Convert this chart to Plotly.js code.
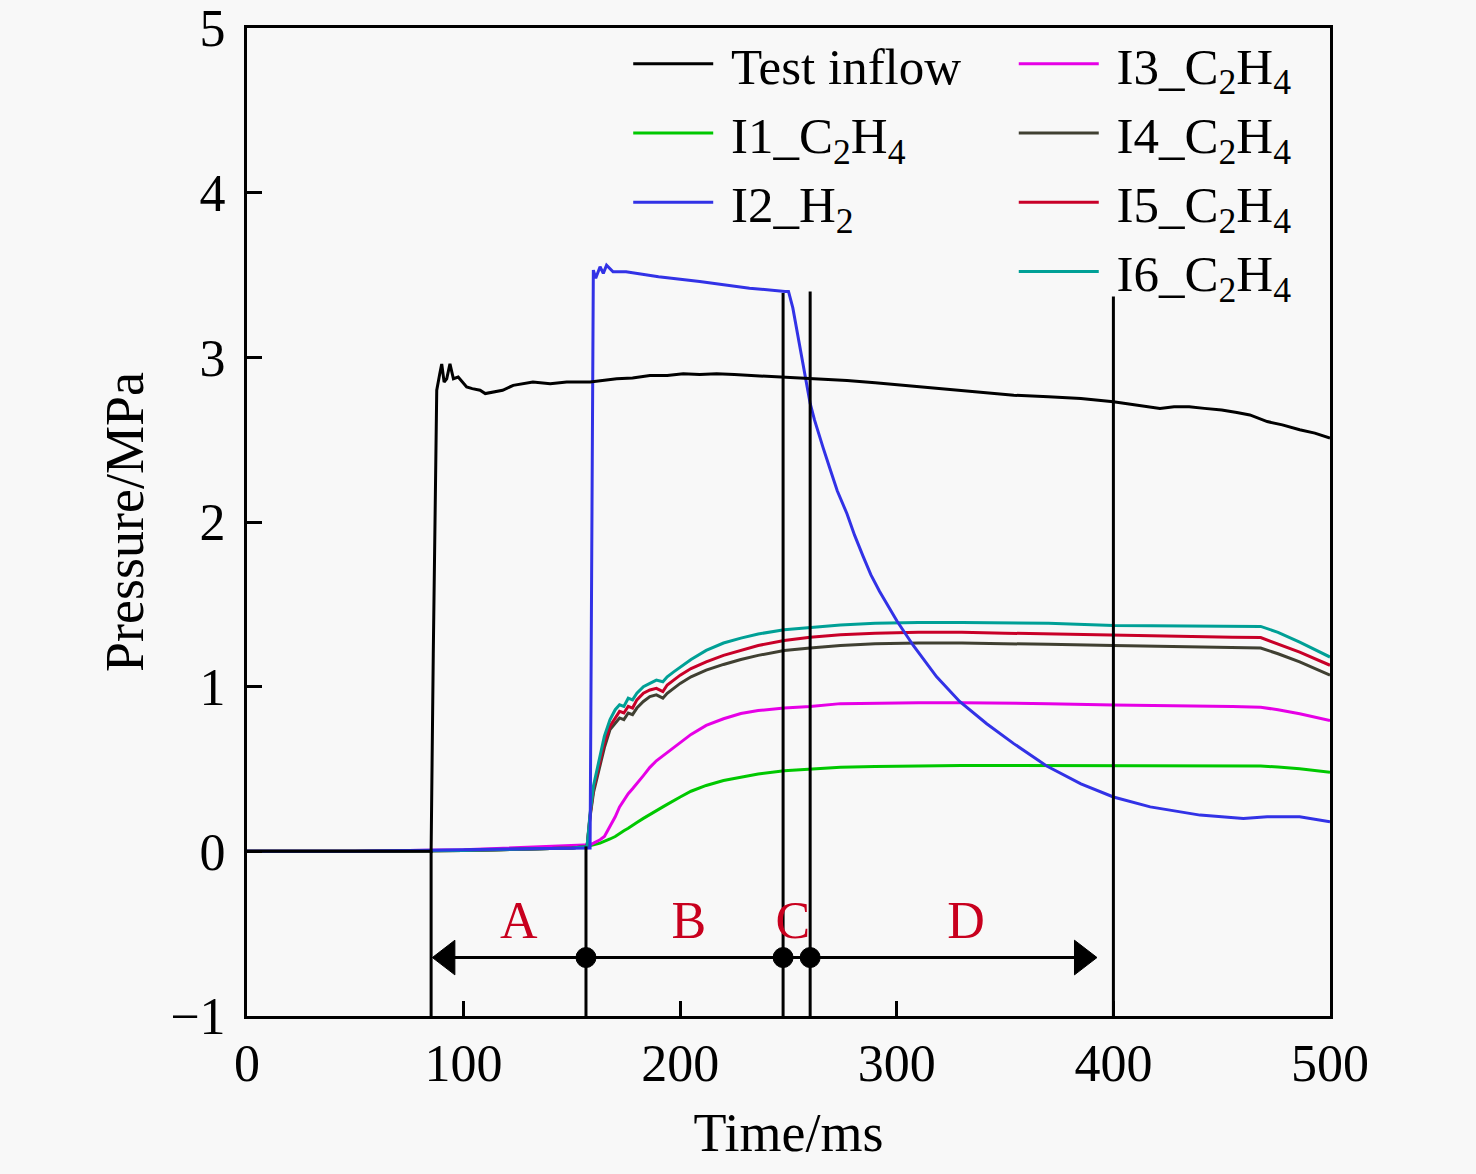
<!DOCTYPE html>
<html>
<head>
<meta charset="utf-8">
<script src="https://cdn.plot.ly/plotly-3.0.1.min.js"></script>
<style>
  body { margin: 0; background: #f8f8f8; }
  #chart { width: 1476px; height: 1174px; }
</style>
</head>
<body>
<div id="chart"></div>
<script>
// test inflow (black)
var inflowT = [0, 50, 85, 86, 87.6, 89, 89.9, 91, 92.2, 93.7, 95.3, 97.5, 101.4, 104, 107.6, 110, 113.6, 118, 122.9, 127, 132, 140, 147.6, 158.4, 165, 170.7, 178, 186, 194, 201.4, 209, 216.8, 225, 232, 240, 247.6, 258.4, 266, 277, 290, 303, 313, 323, 338, 354, 370, 385, 400, 410, 421.5, 428, 435, 442, 450, 457, 463, 471, 478, 486, 493, 500];
var inflowP = [0, 0, 0, 1.2, 2.8, 2.9, 2.96, 2.85, 2.87, 2.96, 2.87, 2.88, 2.82, 2.81, 2.80, 2.78, 2.79, 2.80, 2.83, 2.84, 2.85, 2.84, 2.85, 2.85, 2.86, 2.87, 2.875, 2.89, 2.89, 2.90, 2.895, 2.90, 2.895, 2.89, 2.885, 2.88, 2.87, 2.865, 2.86, 2.845, 2.83, 2.82, 2.81, 2.79, 2.77, 2.76, 2.75, 2.73, 2.71, 2.69, 2.70, 2.70, 2.69, 2.68, 2.665, 2.65, 2.61, 2.59, 2.56, 2.54, 2.51];

// I2 hydrogen (blue)
var h2T = [0, 50, 100, 150, 157, 158.4, 159.9, 161, 163, 164.5, 166, 169, 175, 190, 209, 232, 248.4, 250, 252, 257.6, 260, 262, 264, 266, 269, 272.5, 277, 280.5, 284.5, 288, 292, 296, 300, 307.6, 318.4, 329, 341.5, 354, 369, 385, 400, 417, 440, 460, 471, 486, 500];
var h2P = [0, 0, 0.01, 0.02, 0.02, 0.02, 3.53, 3.48, 3.55, 3.51, 3.56, 3.52, 3.52, 3.49, 3.46, 3.42, 3.40, 3.40, 3.3, 2.88, 2.72, 2.62, 2.53, 2.45, 2.33, 2.19, 2.05, 1.92, 1.79, 1.68, 1.58, 1.49, 1.40, 1.25, 1.06, 0.91, 0.775, 0.654, 0.52, 0.41, 0.33, 0.27, 0.22, 0.20, 0.21, 0.21, 0.18];

// ethylene ports share one time base
var c2h4T = [0, 50, 100, 150, 157, 158.4, 160, 163, 165, 167.6, 170, 172, 174, 176, 178, 180, 183, 186, 189, 192, 194, 197, 200, 205, 212, 220, 228, 236, 248, 260, 274, 290, 310, 330, 350, 370, 400, 430, 455, 468, 476, 486, 500];
var i1P = [0, 0, 0.005, 0.02, 0.03, 0.036, 0.04, 0.05, 0.06, 0.075, 0.09, 0.11, 0.125, 0.14, 0.155, 0.175, 0.2, 0.225, 0.25, 0.27, 0.285, 0.31, 0.33, 0.365, 0.40, 0.43, 0.452, 0.47, 0.49, 0.50, 0.51, 0.515, 0.52, 0.522, 0.522, 0.522, 0.522, 0.52, 0.52, 0.518, 0.512, 0.502, 0.48];
var i3P = [0, 0, 0.01, 0.035, 0.04, 0.04, 0.05, 0.07, 0.09, 0.15, 0.21, 0.27, 0.31, 0.35, 0.38, 0.41, 0.46, 0.51, 0.55, 0.58, 0.60, 0.63, 0.66, 0.71, 0.765, 0.805, 0.837, 0.855, 0.87, 0.88, 0.897, 0.90, 0.902, 0.902, 0.90, 0.897, 0.888, 0.885, 0.88, 0.875, 0.86, 0.836, 0.795];
var i4P = [0, 0, 0.005, 0.02, 0.03, 0.21, 0.36, 0.52, 0.63, 0.74, 0.78, 0.81, 0.80, 0.84, 0.83, 0.87, 0.91, 0.94, 0.95, 0.93, 0.96, 0.99, 1.02, 1.06, 1.10, 1.135, 1.165, 1.19, 1.22, 1.235, 1.25, 1.26, 1.265, 1.265, 1.262, 1.257, 1.25, 1.245, 1.24, 1.235, 1.20, 1.15, 1.07];
var i5P = [0, 0, 0.005, 0.02, 0.03, 0.22, 0.38, 0.55, 0.66, 0.76, 0.81, 0.85, 0.84, 0.88, 0.87, 0.92, 0.96, 0.98, 0.99, 0.97, 1.01, 1.04, 1.07, 1.11, 1.15, 1.19, 1.22, 1.25, 1.28, 1.30, 1.315, 1.325, 1.33, 1.33, 1.325, 1.32, 1.31, 1.305, 1.30, 1.298, 1.26, 1.21, 1.13];
var i6P = [0, 0, 0.005, 0.02, 0.03, 0.23, 0.40, 0.58, 0.70, 0.80, 0.86, 0.89, 0.88, 0.93, 0.92, 0.96, 1.0, 1.02, 1.04, 1.03, 1.06, 1.09, 1.12, 1.165, 1.22, 1.265, 1.295, 1.32, 1.345, 1.36, 1.375, 1.385, 1.39, 1.39, 1.388, 1.385, 1.372, 1.37, 1.368, 1.366, 1.33, 1.27, 1.18];

// phase boundaries and labels
var boundT = [85, 156.5, 247.5, 260, 400];
var boundTop = [0, 0.03, 3.39, 3.40, 3.37];
var arrowP = -0.645;
var arrowT = [92.5, 156.5, 247.5, 260, 385.5];
var arrowSym = ['triangle-left', 'circle', 'circle', 'circle', 'triangle-right'];
var arrowSize = [30, 20, 20, 20, 30];
var phaseNames = ['A', 'B', 'C', 'D'];
var phaseT = [125.5, 204, 252, 332];
var phaseP = -0.45;

var serif = 'Liberation Serif, Times New Roman, serif';
var gap = '\u00a0';

function curve(x, y, name, color, leg) {
    return {
        x: x, y: y, name: gap + name, type: 'scatter', mode: 'lines',
        line: {color: color, width: 3},
        legend: leg
    };
}

var data = [
    curve(c2h4T, i1P, 'I1_C<sub>2</sub>H<sub>4</sub>', 'rgb(0,200,0)', 'legend'),
    curve(c2h4T, i3P, 'I3_C<sub>2</sub>H<sub>4</sub>', 'rgb(230,0,230)', 'legend2'),
    curve(c2h4T, i4P, 'I4_C<sub>2</sub>H<sub>4</sub>', 'rgb(64,64,50)', 'legend2'),
    curve(c2h4T, i5P, 'I5_C<sub>2</sub>H<sub>4</sub>', 'rgb(200,0,40)', 'legend2'),
    curve(c2h4T, i6P, 'I6_C<sub>2</sub>H<sub>4</sub>', 'rgb(0,160,150)', 'legend2'),
    curve(h2T, h2P, 'I2_H<sub>2</sub>', 'rgb(50,50,230)', 'legend'),
    curve(inflowT, inflowP, 'Test inflow', 'black', 'legend')
];
// legend order: column 1 then column 2
data[6].legendrank = 1; data[0].legendrank = 2; data[5].legendrank = 3;
data[1].legendrank = 4; data[2].legendrank = 5; data[3].legendrank = 6; data[4].legendrank = 7;

// vertical boundary lines from the bottom axis
var vx = [], vy = [];
for (var i in boundT) {
    vx.push(boundT[i], boundT[i], null);
    vy.push(-1, boundTop[i], null);
}
data.push({x: vx, y: vy, mode: 'lines', type: 'scatter', showlegend: false,
    hoverinfo: 'skip', line: {color: 'black', width: 3}});

data.push({
    x: arrowT, y: arrowT.map(function () { return arrowP; }),
    mode: 'lines+markers', type: 'scatter', showlegend: false, hoverinfo: 'skip',
    line: {color: 'black', width: 3},
    marker: {symbol: arrowSym, size: arrowSize, color: 'black', opacity: 1,
        line: {color: 'black', width: 1}}
});

data.push({
    x: phaseT, y: phaseT.map(function () { return phaseP; }),
    text: phaseNames, mode: 'text', type: 'scatter', showlegend: false,
    textfont: {family: serif, size: 52, color: 'rgb(200,0,30)'}
});

var axisCommon = {
    showline: true, mirror: true, linecolor: 'black', linewidth: 3,
    ticks: 'inside', ticklen: 15, tickwidth: 3, tickcolor: 'black',
    showgrid: false, zeroline: false,
    tickfont: {family: serif, size: 52, color: 'black'}
};

var legendCommon = {
    xanchor: 'left', yanchor: 'top',
    bgcolor: 'rgba(0,0,0,0)', itemwidth: 80,
    font: {family: serif, size: 51, color: 'black'}
};

var layout = {
    width: 1476, height: 1174,
    margin: {l: 247, r: 146, t: 28, b: 158},
    paper_bgcolor: '#f8f8f8', plot_bgcolor: '#f8f8f8',
    font: {family: serif, color: 'black'},
    xaxis: Object.assign({}, axisCommon, {
        range: [0, 500], dtick: 100, tick0: 0,
        title: {text: 'Time/ms', font: {family: serif, size: 54}, standoff: 22}
    }),
    yaxis: Object.assign({}, axisCommon, {
        range: [-1, 5], dtick: 1, tick0: 0, ticklabelstandoff: 8,
        title: {text: 'Pressure/MPa', font: {family: serif, size: 54}, standoff: 10}
    }),
    legend: Object.assign({}, legendCommon, {x: 0.352, y: 1.004}),
    legend2: Object.assign({}, legendCommon, {x: 0.708, y: 1.004}),
    showlegend: true
};

Plotly.newPlot('chart', data, layout, {displayModeBar: false});
</script>
</body>
</html>
